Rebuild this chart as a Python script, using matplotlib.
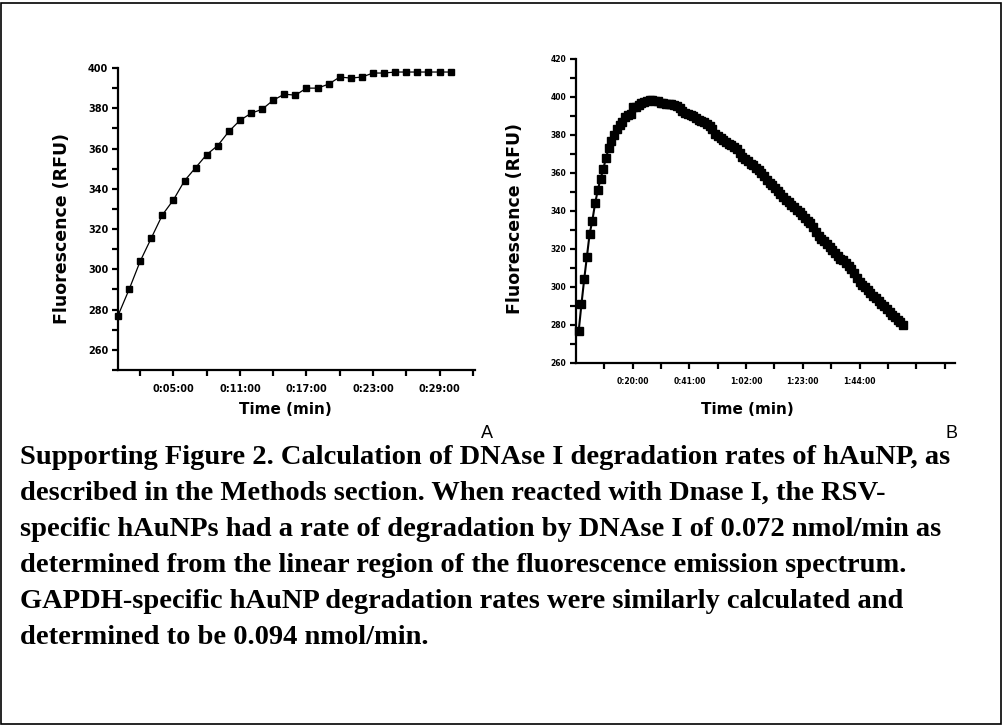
import matplotlib
matplotlib.use("Agg")
import matplotlib.pyplot as plt
from matplotlib.patches import Rectangle

# ---------------- data ----------------
# Panel A: time (min) and fluorescence (RFU)
time_a = list(range(0, 31))
fluor_a = [277, 290, 304, 315.5, 327, 334.5, 344, 350.5, 357, 361.5,
           368.5, 374, 377.5, 379.5, 384, 387, 386.5, 390, 390, 392,
           395.5, 395, 395.5, 397.5, 397.5, 398, 398, 398, 398, 398, 398]

# Panel B: time (min) and fluorescence (RFU)
time_b = list(range(1, 121))
fluor_b = [277, 291, 304, 316, 328, 335, 344, 351, 357, 362,
           368, 373, 377, 380, 383, 385.5, 387, 389.5, 390.5, 391,
           395, 395, 396, 397, 397.5, 398, 398.5, 398.5, 398, 398,
           397, 397, 396.5, 396.5, 396.5, 396, 395.5, 394, 392.5, 391.5,
           391, 390.5, 390, 389, 388, 387.5, 387, 386, 385, 383,
           380.5, 379.5, 378.5, 377.5, 376.5, 375.5, 374.5, 373.5, 372.5, 370.5,
           368.5, 367.5, 366.5, 365, 364, 362.5, 361.5, 360, 358.5, 356.5,
           355, 353.5, 352, 350.5, 349, 347.5, 346, 344.5, 343, 342,
           340.5, 339.5, 338, 336.5, 335, 333.5, 331.5, 329, 327, 325.5,
           324, 322.5, 321, 319.5, 318, 316.5, 315, 314, 312.5, 311,
           309.5, 307.5, 305, 302.5, 301, 300, 298.5, 297, 295.5, 294,
           292.5, 291, 290, 288.5, 287, 285.5, 284, 282.5, 281.5, 280]

# Tick positions / labels
yticks_a = [260, 280, 300, 320, 340, 360, 380, 400]
xticks_a = [5, 11, 17, 23, 29]
xticklabels_a = ["0:05:00", "0:11:00", "0:17:00", "0:23:00", "0:29:00"]
xminor_a = [2, 8, 14, 20, 26, 32]

yticks_b = [260, 280, 300, 320, 340, 360, 380, 400, 420]
xticks_b = [20.8, 41.6, 62.4, 83.2, 104.0, 124.8]
xticklabels_b = ["0:20:00", "0:41:00", "1:02:00", "1:23:00", "1:44:00", ""]
xminor_b = [10.4, 31.2, 52.0, 72.8, 93.6, 114.4, 135.2]

caption_lines = [
    "Supporting Figure 2. Calculation of DNAse I degradation rates of hAuNP, as",
    "described in the Methods section. When reacted with Dnase I, the RSV-",
    "specific hAuNPs had a rate of degradation by DNAse I of 0.072 nmol/min as",
    "determined from the linear region of the fluorescence emission spectrum.",
    "GAPDH-specific hAuNP degradation rates were similarly calculated and",
    "determined to be 0.094 nmol/min.",
]

# ---------------- figure ----------------
W, H = 1004, 725
fig = plt.figure(figsize=(W / 100, H / 100), dpi=100)
fig.patch.set_facecolor("white")


def px_axes(l, t, r, b):
    return fig.add_axes([l / W, 1 - b / H, (r - l) / W, (b - t) / H])


def style(ax, fs):
    for s in ("top", "right"):
        ax.spines[s].set_visible(False)
    for s in ("left", "bottom"):
        ax.spines[s].set_linewidth(1.6)
    ax.tick_params(which="major", direction="out", length=4, width=1.6,
                   labelsize=fs, pad=3)
    ax.tick_params(which="minor", direction="out", length=4, width=1.6)
    for lab in ax.get_xticklabels() + ax.get_yticklabels():
        lab.set_fontweight("bold")
        lab.set_family("DejaVu Sans")


# Panel A
axA = px_axes(118, 68, 475, 370)
axA.plot(time_a, fluor_a, color="black", lw=0.9, marker="s", ms=3.8,
         mfc="black", mec="black", clip_on=False)
axA.set_xlim(0, 32.2)
axA.set_ylim(250, 400)
axA.set_yticks(yticks_a)
axA.set_yticks([v + 10 for v in yticks_a[:-1]] + [250], minor=True)
axA.set_xticks(xticks_a, xticklabels_a)
axA.set_xticks(xminor_a, minor=True)
style(axA, 7)
axA.tick_params(axis="x", which="major", pad=6)

# Panel B
axB = px_axes(576, 59, 955, 363)
axB.plot(time_b, fluor_b, color="black", lw=1.5, marker="s", ms=5.2,
         mfc="black", mec="black", clip_on=False)
axB.set_xlim(0, 139)
axB.set_ylim(260, 420)
axB.set_yticks(yticks_b)
axB.set_yticks([v + 10 for v in yticks_b[:-1]], minor=True)
axB.set_xticks(xticks_b, xticklabels_b)
axB.set_xticks(xminor_b, minor=True)
style(axB, 5.5)
axB.tick_params(axis="x", which="major", pad=6)

# Axis labels
lab_kw = dict(fontweight="bold", family="DejaVu Sans", color="black")
fig.text(62 / W, 1 - 228 / H, "Fluorescence (RFU)", rotation=90,
         ha="center", va="center", fontsize=12.5, **lab_kw)
fig.text(515 / W, 1 - 219 / H, "Fluorescence (RFU)", rotation=90,
         ha="center", va="center", fontsize=12.5, **lab_kw)
fig.text(285 / W, 1 - 410 / H, "Time (min)", ha="center", va="center",
         fontsize=11, **lab_kw)
fig.text(747 / W, 1 - 410 / H, "Time (min)", ha="center", va="center",
         fontsize=11, **lab_kw)

# Panel letters
fig.text(487 / W, 1 - 433 / H, "A", ha="center", va="center",
         fontsize=13, family="Liberation Sans")
fig.text(952 / W, 1 - 433 / H, "B", ha="center", va="center",
         fontsize=13, family="Liberation Sans")

# Caption
for i, line in enumerate(caption_lines):
    fig.text(20 / W, 1 - (457 + i * 36.2) / H, line, ha="left", va="center",
             fontsize=20.5, fontweight="bold", family="Liberation Serif")

# Border
fig.patches.append(Rectangle((1.5 / W, 1.5 / H), (W - 4) / W, (H - 4) / H,
                             transform=fig.transFigure, fill=False,
                             edgecolor="black", linewidth=1.2))

fig.savefig("out.png", dpi=100)
